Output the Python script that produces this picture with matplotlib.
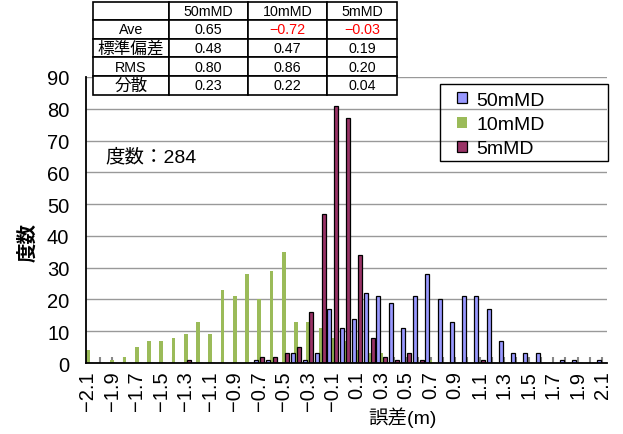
import numpy as np
import matplotlib
matplotlib.use('Agg')
from matplotlib import pyplot as plt
from matplotlib.patches import Rectangle

plt.rcParams['font.family'] = ['Liberation Sans', 'Noto Sans CJK JP']

# category axis: error in metres, every 0.1 m
cats = ['−2.1', '−2.0', '−1.9', '−1.8', '−1.7', '−1.6', '−1.5', '−1.4', '−1.3', '−1.2',
        '−1.1', '−1.0', '−0.9', '−0.8', '−0.7', '−0.6', '−0.5', '−0.4', '−0.3', '−0.2',
        '−0.1', '0.0', '0.1', '0.2', '0.3', '0.4', '0.5', '0.6', '0.7', '0.8',
        '0.9', '1.0', '1.1', '1.2', '1.3', '1.4', '1.5', '1.6', '1.7', '1.8',
        '1.9', '2.0', '2.1']

md50 = [0, 0, 0, 0, 0, 0, 0, 0, 0, 0,
        0, 0, 0, 0, 1, 1, 0, 3, 1, 3,
        17, 11, 14, 22, 21, 19, 11, 21, 28, 20,
        13, 21, 21, 17, 7, 3, 3, 3, 0, 1,
        1, 0, 1]
md10 = [4, 0, 1, 2, 5, 7, 7, 8, 9, 13,
        9, 23, 21, 28, 20, 29, 35, 13, 13, 11,
        8, 7, 4, 3, 3, 0, 0, 0, 1, 0,
        0, 0, 0, 0, 0, 0, 0, 0, 0, 0,
        0, 0, 0]
md5 = [0, 0, 0, 0, 0, 0, 0, 0, 1, 0,
       0, 0, 0, 0, 2, 2, 3, 5, 16, 47,
       81, 77, 34, 8, 2, 1, 3, 1, 0, 0,
       0, 0, 1, 0, 0, 0, 0, 0, 0, 0,
       0, 0, 0]

series_names = ['50mMD', '10mMD', '5mMD']
stat_names = ['Ave', '標準偏差', 'RMS', '分散']
stat_ave = ['0.65', '−0.72', '−0.03']
stat_std = ['0.48', '0.47', '0.19']
stat_rms = ['0.80', '0.86', '0.20']
stat_var = ['0.23', '0.22', '0.04']
total_count = 284

W, H = 623, 435
fig = plt.figure(figsize=(W / 100, H / 100), dpi=100)
ax = fig.add_axes([86 / W, 1 - 364 / H, (607 - 86) / W, (364 - 78) / H])

x = np.arange(len(cats))
ax.bar(x - 0.26, md50, 0.33, color='#9999FF', edgecolor='black', lw=0.9, label=series_names[0], zorder=3)
ax.bar(x, md10, 0.3, color='#9BBB59', lw=0, label=series_names[1], zorder=2)
ax.bar(x + 0.26, md5, 0.33, color='#993366', edgecolor='black', lw=0.9, label=series_names[2], zorder=3)

ax.set_xlim(-0.14, 42.4)
ax.set_ylim(0, 90)
ax.set_yticks(range(0, 91, 10))
for yv in ax.get_yticks()[1:]:
    ax.axhline(yv, color='#999999', lw=1, zorder=0)

ax.set_xticks(x)
ax.set_xticklabels([c if i % 2 == 0 else '' for i, c in enumerate(cats)], rotation=90)
ax.tick_params(axis='x', direction='in', length=4, width=1.5, color='#888888', labelsize=14.5, pad=5)
ax.tick_params(axis='y', length=0, labelsize=14.5, pad=12)

for s in ['top', 'right']:
    ax.spines[s].set_visible(False)
for s in ['left', 'bottom']:
    ax.spines[s].set_linewidth(1.3)
    ax.spines[s].set_zorder(4)

ax.set_xlabel('誤差(m)', fontsize=14)
ax.xaxis.set_label_coords((402 - 86) / 521, -(418 - 364) / 286)
ax.xaxis.label.set_va('center')
ax.set_ylabel('度数', fontsize=14, fontweight='bold')
ax.yaxis.set_label_coords((28 - 86) / 521, (364 - 242) / 286)
ax.yaxis.label.set_va('center')

ax.text((105 - 86) / 521, (364 - 158) / 286, '度数：' + str(total_count),
        transform=ax.transAxes, fontsize=14, va='center', ha='left')

# legend with a wide frame like the original
leg = ax.legend(loc='upper left', bbox_to_anchor=(449 / W, 1 - 85 / H), bbox_transform=fig.transFigure,
                frameon=False, fontsize=14, handlelength=0.5, handleheight=0.5,
                handletextpad=0.5, labelspacing=0.37, borderpad=0.4, borderaxespad=0)
fig.patches.append(Rectangle((440 / W, 1 - 162 / H), 168 / W, 77 / H, transform=fig.transFigure,
                             fill=False, edgecolor='black', lw=1))

# statistics table
tax = fig.add_axes([93 / W, 1 - 95.5 / H, (397 - 93) / W, (95.5 - 2.5) / H])
tax.axis('off')
cell_text = [[''] + series_names]
for name, row in zip(stat_names, [stat_ave, stat_std, stat_rms, stat_var]):
    cell_text.append([name] + row)
col_w = np.array([76, 79, 79, 70], dtype=float)
tbl = tax.table(cellText=cell_text, cellLoc='center', bbox=[0, 0, 1, 1], colWidths=list(col_w / col_w.sum()))
tbl.auto_set_font_size(False)
tbl.set_fontsize(10.3)
for (r, c), cell in tbl.get_celld().items():
    cell.set_edgecolor('black')
    cell.set_linewidth(1.2)
    cell.set_facecolor('white')
    txt = cell.get_text()
    if txt.get_text().startswith('−'):
        txt.set_color('red')
    if txt.get_text() in ('標準偏差', '分散'):
        txt.set_fontsize(12)

fig.savefig('out.png', dpi=100)
